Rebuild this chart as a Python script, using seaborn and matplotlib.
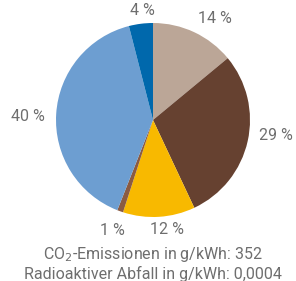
import numpy as np
import seaborn as sns
import matplotlib
matplotlib.use("Agg")
import matplotlib.pyplot as plt

sns.set_theme(style="white")
plt.rcParams['font.family'] = ['Roboto', 'DejaVu Sans']

# shares of the energy mix, clockwise from 12 o'clock
shares = [14, 29, 12, 1, 40, 4]
labels = ["14 %", "29 %", "12 %", "1 %", "40 %", "4 %"]
colors = ["#bba697", "#664130", "#f8b900", "#8b5b42", "#6d9ed1", "#0068ac"]
footer = ["CO$_2$-Emissionen in g/kWh: 352", "Radioaktiver Abfall in g/kWh: 0,0004"]

# label placement: distance (pie radii) and angle nudge (deg) from slice middle
label_dist = [1.23, 1.28, 1.14, 1.21, 1.29, 1.135]
label_nudge = [-6.2, 5.2, 3.5, -0.6, 1.8, -1.6]

txt_color = "#6e6e6e"
fs = 11.5

fig = plt.figure(figsize=(2.96, 2.81), dpi=100)
cx, cy, r = 153, 120, 97
ax = fig.add_axes([(cx - r) / 296, (281 - cy - r) / 281, 2 * r / 296, 2 * r / 281])

wedges, _ = ax.pie(shares, colors=colors, startangle=90, counterclock=False,
                   wedgeprops=dict(linewidth=0))
ax.set_xlim(-1, 1)
ax.set_ylim(-1, 1)
ax.set_aspect("equal")
ax.axis("off")

for w, lab, d, nud in zip(wedges, labels, label_dist, label_nudge):
    ang = np.deg2rad((w.theta1 + w.theta2) / 2 + nud)
    ax.text(d * np.cos(ang), d * np.sin(ang), lab, ha="center", va="center",
            fontsize=fs, color=txt_color)

fig.text(0.517, 1 - 255 / 281, footer[0], ha="center", va="center",
         fontsize=fs, color=txt_color)
fig.text(0.517, 1 - 274 / 281, footer[1], ha="center", va="center",
         fontsize=fs, color=txt_color)

fig.savefig("out.png", dpi=100)
